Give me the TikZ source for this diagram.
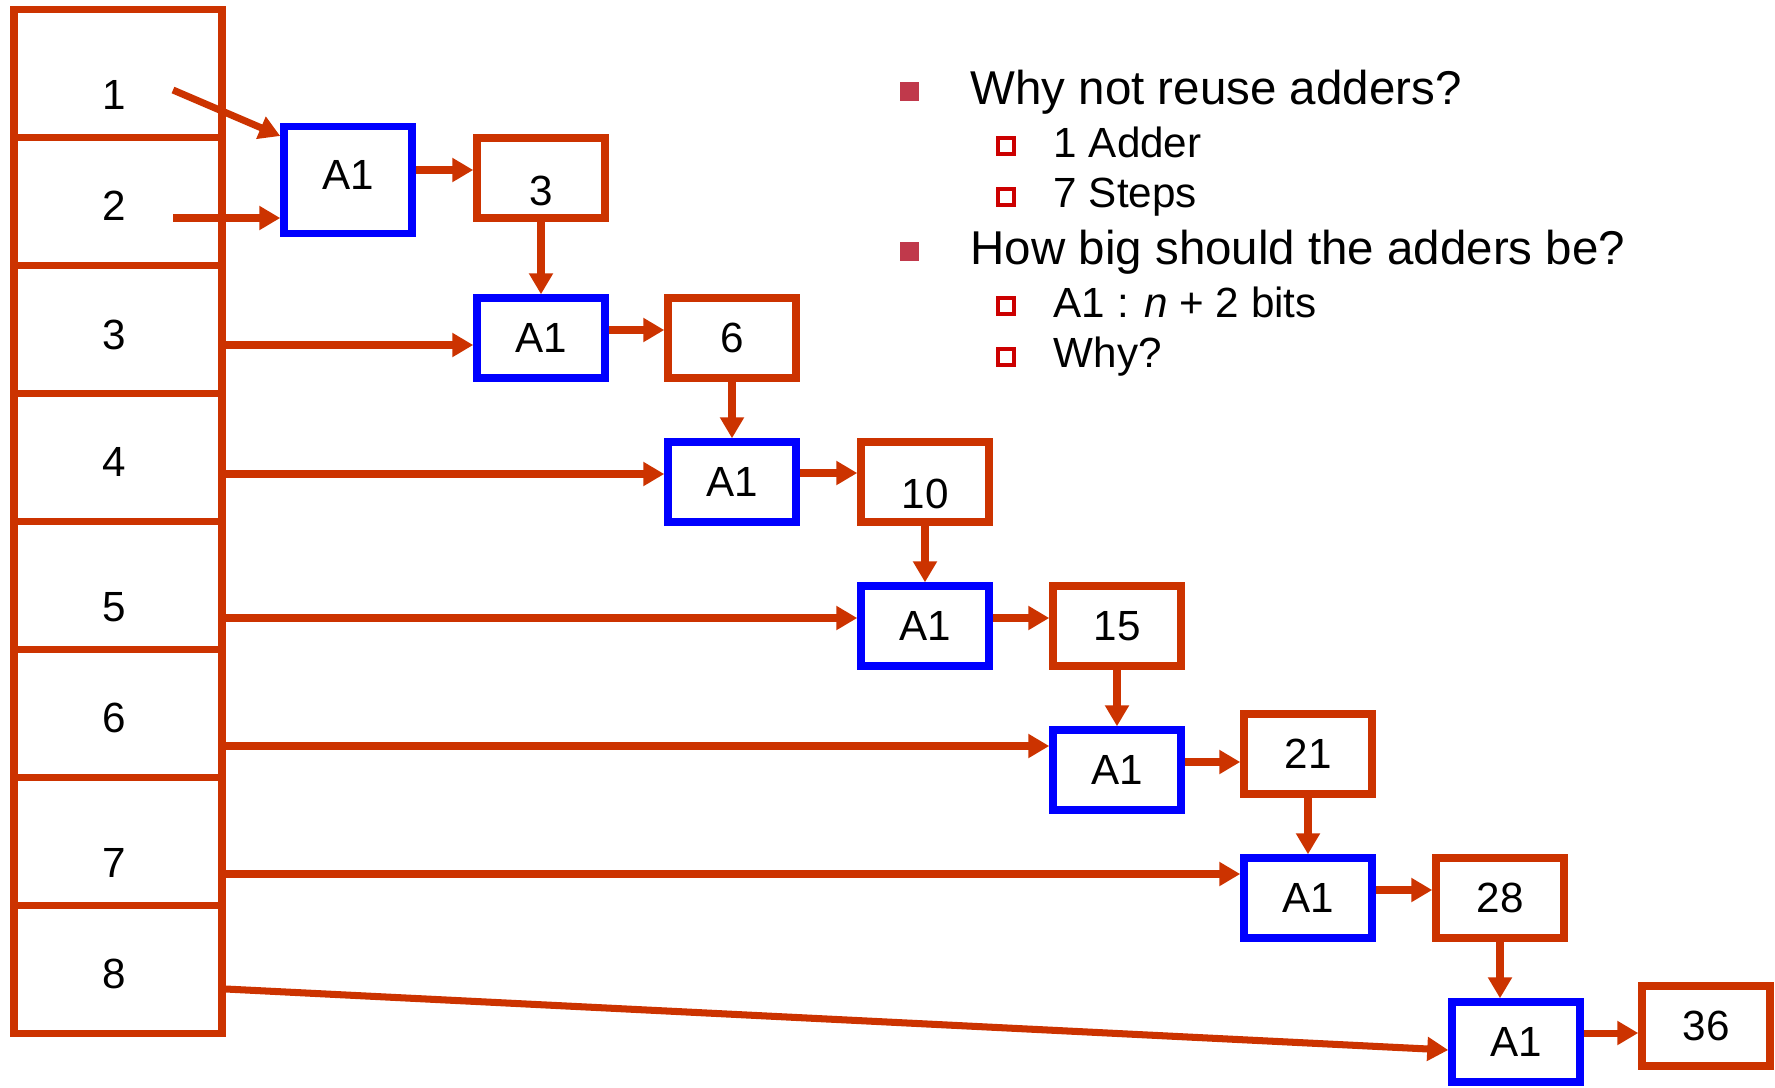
\documentclass[tikz,border=0pt]{standalone}
\usepackage{fontspec}
\setmainfont{Liberation Sans}
\usetikzlibrary{arrows.meta}

\definecolor{rust}{RGB}{204,51,0}
\definecolor{addblue}{RGB}{0,0,255}
\definecolor{dotred}{RGB}{192,57,75}
\definecolor{ringred}{RGB}{204,0,0}

\begin{document}
\begin{tikzpicture}[x=0.01cm,y=-0.01cm,
  cell/.style={draw=rust,line width=2.1pt,minimum width=2.08cm,minimum height=1.28cm,inner sep=0pt},
  num/.style={inner sep=0pt,font=\fontsize{12}{14}\selectfont},
  sum/.style={draw=rust,line width=2.1pt,minimum width=1.28cm,minimum height=0.8cm,inner sep=0pt,font=\fontsize{12}{14}\selectfont},
  adder/.style={sum,draw=addblue},
  arr/.style={draw=rust,line width=2pt,-{Triangle[length=2.1mm,width=2.3mm]}},
  dot/.style={fill=dotred,minimum size=0.19cm,inner sep=0pt},
  ring/.style={draw=ringred,line width=1.1pt,minimum size=0.16cm,inner sep=0pt},
  big/.style={anchor=base west,inner sep=0pt,font=\fontsize{13.5}{16}\selectfont},
  small/.style={anchor=base west,inner sep=0pt,font=\fontsize{12}{14}\selectfont}]

  \useasboundingbox (0,0) rectangle (1775,1087);

  \foreach \i in {1,...,8} {
    \node[cell] (m\i) at (118,{73.5+128*(\i-1)}) {};
  }

  \foreach \i/\y in {1/95,2/206,3/335,4/462,5/607,6/718,7/863,8/974} {
    \node[num] (l\i) at (114,\y) {\i};
  }

  \node[adder,minimum height=1.07cm,text depth=0.1cm] (a1) at (348,180) {A1};
  \node[adder] (a2) at (541,338) {A1};
  \node[adder] (a3) at (732,482) {A1};
  \node[adder] (a4) at (925,626) {A1};
  \node[adder] (a5) at (1117,770) {A1};
  \node[adder] (a6) at (1308,898) {A1};
  \node[adder] (a7) at (1516,1042) {A1};

  \node[sum,text height=0.56cm] (r3) at (541,178) {3};
  \node[sum] (r6) at (732,338) {6};
  \node[sum,text height=0.54cm] (r10) at (925,482) {10};
  \node[sum] (r15) at (1117,626) {15};
  \node[sum] (r21) at (1308,754) {21};
  \node[sum] (r28) at (1500,898) {28};
  \node[sum] (r36) at (1706,1026) {36};

  \coordinate (s1) at (173,90);
  \coordinate (s2) at (173,218);
  \draw[arr] (s1) -- (a1.west |- 0,136);
  \draw[arr] (s2) -- (a1.west |- s2);

  \foreach \i/\j/\y in {3/2/345,4/3/474,5/4/618,6/5/746,7/6/874} {
    \draw[arr] (m\i.east |- 0,\y) -- (a\j.west |- 0,\y);
  }
  \draw[arr] (m8.east |- 0,989) -- (a7.west |- 0,1050);

  \foreach \j/\k/\y in {1/3/170,2/6/330,3/10/473,4/15/618,5/21/762,6/28/890,7/36/1033} {
    \draw[arr] (a\j.east |- 0,\y) -- (r\k.west |- 0,\y);
  }

  \foreach \k/\j in {3/2,6/3,10/4,15/5,21/6,28/7} {
    \draw[arr] (r\k.south) -- (r\k.south |- a\j.north);
  }

  \node[dot] (b1) at (909,91) {};
  \node[big] (t1) at (970,104) {Why not reuse adders?};
  \node[ring] (c1) at (1006,146) {};
  \node[small] (t2) at (1053,157) {1 Adder};
  \node[ring] (c2) at (1006,197) {};
  \node[small] (t3) at (1053,207) {7 Steps};
  \node[dot] (b2) at (909,251) {};
  \node[big] (t4) at (970,264) {How big should the adders be?};
  \node[ring] (c3) at (1006,306) {};
  \node[small] (t5) at (1053,317) {A1 : \textit{n} + 2 bits};
  \node[ring] (c4) at (1006,357) {};
  \node[small] (t6) at (1053,367) {Why?};

\end{tikzpicture}
\end{document}
